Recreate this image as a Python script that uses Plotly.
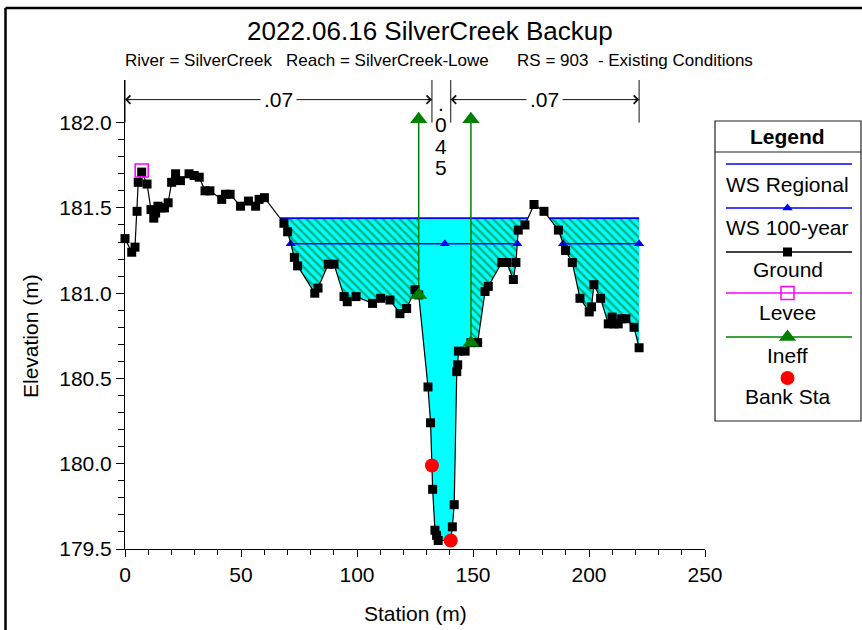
import numpy as np
import plotly.graph_objects as go

W, H = 862, 630
FONT = "Arial, Liberation Sans, sans-serif"

# ---- cross-section data -------------------------------------------------
ground_sta = [0.0, 2.9, 4.3, 5.2, 5.7, 7.2, 9.5, 11.2, 12.4, 13.2, 14.2, 15.5, 17.0,
              18.6, 20.1, 21.8, 23.9, 27.6, 29.8, 32.0, 34.5, 36.6, 41.7, 43.3, 45.3,
              49.8, 53.2, 56.3, 57.8, 60.1, 68.5, 70.1, 73.0, 74.4, 81.8, 83.2, 87.6,
              90.1, 94.4, 95.8, 99.6, 106.7, 110.2, 114.2, 118.5, 121.4, 125.0, 126.6,
              130.6, 131.7, 132.3, 132.6, 133.6, 134.3, 135.0, 140.4, 141.1, 141.9,
              143.0, 143.4, 143.7, 146.6, 149.1, 152.0, 155.2, 156.6, 162.4, 164.5,
              167.4, 168.5, 169.5, 172.4, 176.3, 180.6, 186.8, 189.9, 192.8, 196.1,
              200.1, 201.1, 202.1, 205.0, 208.3, 210.0, 210.8, 212.6, 214.1, 215.9,
              219.4, 221.6]
ground_elev = [181.32, 181.24, 181.27, 181.48, 181.65, 181.71, 181.64, 181.49, 181.44,
               181.47, 181.51, 181.50, 181.50, 181.53, 181.65, 181.70, 181.66, 181.70,
               181.69, 181.68, 181.60, 181.60, 181.55, 181.58, 181.58, 181.51, 181.54,
               181.51, 181.55, 181.56, 181.41, 181.36, 181.21, 181.16, 181.00, 181.03,
               181.17, 181.17, 180.98, 180.95, 180.98, 180.94, 180.97, 180.96, 180.88,
               180.91, 181.02, 180.99, 180.45, 180.24, 179.99, 179.85, 179.61, 179.58,
               179.55, 179.55, 179.63, 179.76, 180.54, 180.58, 180.66, 180.66, 180.71,
               180.71, 181.01, 181.04, 181.18, 181.18, 181.08, 181.18, 181.37, 181.40,
               181.52, 181.48, 181.37, 181.25, 181.18, 180.97, 180.89, 180.92, 181.05,
               180.97, 180.82, 180.86, 180.82, 180.82, 180.85, 180.85, 180.80, 180.68]

levee_sta = [7.2]
levee_elev = [181.72]

bank_sta = [132.3, 140.4]
bank_elev = [179.99, 179.55]

ineff_sta = [126.6, 149.1]
ineff_ground = [180.99, 180.71]
ineff_top = [182.02, 182.02]

ws_regional = 181.44
ws_100yr = 181.29

n_values = [".07", ".045", ".07"]
n_level = 182.135

title = "2022.06.16 SilverCreek Backup"
subtitle = ("River = SilverCreek\u00a0\u00a0\u00a0Reach = SilverCreek-Lowe"
            "\u00a0\u00a0\u00a0\u00a0\u00a0\u00a0RS = 903\u00a0\u00a0- Existing Conditions")

legend_items = ["WS Regional", "WS 100-year", "Ground", "Levee", "Ineff", "Bank Sta"]

# ---- colours -----------------------------------------------------------
C_WS = "#0000FF"
C_WATER = "#00FFFF"
C_INEFF = "#008000"
C_LEVEE = "#FF00FF"
C_BANK = "#FF0000"


def fx(px):
    return px / W


def fy(py):
    return 1 - py / H


def wet_runs(sta, elev, ws, start=-1e9):
    """Contiguous runs of the ground profile lying below a water level,
    ignoring anything on the land side of the left levee."""
    runs, cur = [], []
    for i, (s, z) in enumerate(zip(sta, elev)):
        if s < start:
            continue
        if cur or i > 0:
            s0, z0 = sta[i - 1], elev[i - 1]
            if s0 >= start and (z0 - ws) * (z - ws) < 0:
                sc = s0 + (ws - z0) / (z - z0) * (s - s0)
                cur.append((sc, ws))
                if z > ws:
                    runs.append(cur)
                    cur = []
        if z < ws:
            cur.append((s, z))
    if cur:
        runs.append(cur)
    return runs


def clip_run(run, lo, hi):
    s = np.array([p[0] for p in run])
    z = np.array([p[1] for p in run])
    a, b = max(lo, s[0]), min(hi, s[-1])
    if a >= b:
        return None
    pts = [(a, float(np.interp(a, s, z)))]
    pts += [(si, zi) for si, zi in zip(s, z) if a < si < b]
    pts.append((b, float(np.interp(b, s, z))))
    return pts


def water_polygon(pts, ws):
    xs = [p[0] for p in pts] + [pts[-1][0], pts[0][0], pts[0][0]]
    ys = [p[1] for p in pts] + [ws, ws, pts[0][1]]
    return xs, ys


fig = go.Figure()

# ---- water fill: effective flow (solid) and ineffective areas (hatched) ----
reg_runs = wet_runs(ground_sta, ground_elev, ws_regional, levee_sta[0])
zones = [(-1e9, ineff_sta[0], True), (ineff_sta[0], ineff_sta[1], False),
         (ineff_sta[1], 1e9, True)]
for run in reg_runs:
    for lo, hi, hatched in zones:
        pts = clip_run(run, lo, hi)
        if pts is None:
            continue
        xs, ys = water_polygon(pts, ws_regional)
        kw = dict(x=xs, y=ys, mode="lines", fill="toself", line=dict(width=0),
                  fillcolor=C_WATER, hoverinfo="skip", showlegend=False)
        if hatched:
            kw["fillpattern"] = dict(shape="\\", fgcolor="#006400", bgcolor=C_WATER,
                                     size=6, solidity=0.4)
        fig.add_trace(go.Scatter(**kw))


# ---- water surface lines ----
def ws_line(ws):
    xs, ys = [], []
    for run in wet_runs(ground_sta, ground_elev, ws, levee_sta[0]):
        xs += [run[0][0], run[-1][0], None]
        ys += [ws, ws, None]
    return xs, ys


xs, ys = ws_line(ws_regional)
fig.add_trace(go.Scatter(x=xs, y=ys, mode="lines", line=dict(color=C_WS, width=1.6),
                         hoverinfo="skip", showlegend=False))

xs, ys = ws_line(ws_100yr)
fig.add_trace(go.Scatter(x=xs, y=ys, mode="lines", line=dict(color=C_WS, width=1.6),
                         hoverinfo="skip", showlegend=False))
mark_x = [v for v in xs if v is not None] + [float(np.mean(ineff_sta))]
fig.add_trace(go.Scatter(x=mark_x, y=[ws_100yr] * len(mark_x), mode="markers",
                         marker=dict(symbol="triangle-up", size=9, color=C_WS),
                         cliponaxis=False, hoverinfo="skip", showlegend=False))

# ---- ineffective flow limits ----
for s, zg, zt in zip(ineff_sta, ineff_ground, ineff_top):
    fig.add_trace(go.Scatter(x=[s, s], y=[zg, zt], mode="lines",
                             line=dict(color=C_INEFF, width=1.5),
                             hoverinfo="skip", showlegend=False))

# ---- ground ----
fig.add_trace(go.Scatter(x=ground_sta, y=ground_elev, mode="lines+markers",
                         line=dict(color="black", width=1.2),
                         marker=dict(symbol="square", size=9, color="black"),
                         cliponaxis=False, showlegend=False))

fig.add_trace(go.Scatter(x=ineff_sta + ineff_sta, y=ineff_ground + ineff_top,
                         mode="markers",
                         marker=dict(symbol="triangle-up", size=15, color=C_INEFF),
                         cliponaxis=False, hoverinfo="skip", showlegend=False))

fig.add_trace(go.Scatter(x=levee_sta, y=levee_elev, mode="markers",
                         marker=dict(symbol="square-open", size=13, color=C_LEVEE,
                                     line=dict(width=1.5)),
                         cliponaxis=False, showlegend=False))

fig.add_trace(go.Scatter(x=bank_sta, y=bank_elev, mode="markers",
                         marker=dict(symbol="circle", size=14, color=C_BANK),
                         cliponaxis=False, showlegend=False))

# ---- Manning's n zones along the top ----
n_breaks = [ground_sta[0]] + bank_sta + [ground_sta[-1]]
annotations = []
for b in n_breaks:
    fig.add_trace(go.Scatter(x=[b, b], y=[182.0, 182.25], mode="lines",
                             line=dict(color="#111111", width=1),
                             cliponaxis=False, hoverinfo="skip", showlegend=False))

for i, label in enumerate(n_values):
    lo, hi = n_breaks[i], n_breaks[i + 1]
    mid = (lo + hi) / 2
    if hi - lo > 30:
        fig.add_trace(go.Scatter(x=[lo, hi], y=[n_level, n_level], mode="lines",
                                 line=dict(color="#111111", width=1),
                                 cliponaxis=False, hoverinfo="skip", showlegend=False))
        for end, tail in ((lo, lo + 3), (hi, hi - 3)):
            annotations.append(dict(x=end, y=n_level, ax=tail, ay=n_level,
                                     xref="x", yref="y", axref="x", ayref="y",
                                     text="", showarrow=True, arrowhead=4,
                                     arrowsize=1.6, arrowwidth=1, arrowcolor="#111111"))
        annotations.append(dict(x=mid, y=n_level, xref="x", yref="y", text=label,
                                showarrow=False, bgcolor="white", borderpad=3,
                                xanchor="center", yanchor="middle",
                                font=dict(size=21, color="black", family=FONT)))
    else:
        for k, ch in enumerate(label):
            annotations.append(dict(x=mid, y=n_level, xref="x", yref="y", text=ch,
                                    showarrow=False, yshift=-(3.5 + 21.5 * k),
                                    xanchor="center", yanchor="middle",
                                    font=dict(size=21, color="black", family=FONT)))


def paper_text(x, y, text, size=21, angle=0):
    return dict(x=fx(x), y=fy(y), xref="paper", yref="paper", text=text,
                showarrow=False, xanchor="center", yanchor="middle", textangle=angle,
                font=dict(size=size, color="black", family=FONT))


# ---- titles ----
annotations += [
    paper_text(430, 31, title, 26),
    paper_text(439, 60, subtitle, 17),
    paper_text(415, 613, "Station (m)"),
    paper_text(30, 336, "Elevation (m)", angle=-90),
]

# ---- legend panel ----
LX0, LX1, LY0, LY1 = 715, 861, 121, 421
LXC = (LX0 + LX1) / 2 - 0.5
fig.add_trace(go.Scatter(x=[None], y=[None], xaxis="x2", yaxis="y2", showlegend=False))
sample_y = [164, 208, 252, 293, 337, 378]
label_y = [184, 227, 269, 312, 355, 396]
sample_style = [
    dict(color=C_WS, marker=None),
    dict(color=C_WS, marker=dict(symbol="triangle-up", size=9, color=C_WS)),
    dict(color="black", marker=dict(symbol="square", size=9, color="black")),
    dict(color=C_LEVEE, marker=dict(symbol="square-open", size=13, color=C_LEVEE,
                                    line=dict(width=1.5))),
    dict(color=C_INEFF, marker=dict(symbol="triangle-up", size=15, color=C_INEFF)),
    dict(color=None, marker=dict(symbol="circle", size=14, color=C_BANK)),
]
for sy, ly, name, st in zip(sample_y, label_y, legend_items, sample_style):
    if st["color"] is not None:
        fig.add_trace(go.Scatter(x=[726, 852], y=[H - sy, H - sy], mode="lines",
                                 line=dict(color=st["color"], width=1.5),
                                 xaxis="x2", yaxis="y2", hoverinfo="skip",
                                 showlegend=False))
    if st["marker"] is not None:
        fig.add_trace(go.Scatter(x=[LXC], y=[H - sy], mode="markers", marker=st["marker"],
                                 xaxis="x2", yaxis="y2", hoverinfo="skip",
                                 showlegend=False))
    annotations.append(paper_text(LXC, ly, name))
annotations.append(paper_text(LXC, 136, "<b>Legend</b>"))

shapes = [
    dict(type="rect", xref="paper", yref="paper", x0=fx(LX0), x1=fx(LX1),
         y0=fy(LY1), y1=fy(LY0), line=dict(color="#222222", width=1.2)),
    dict(type="line", xref="paper", yref="paper", x0=fx(LX0), x1=fx(LX1),
         y0=fy(152), y1=fy(152), line=dict(color="#222222", width=1.2)),
    # outer frame
    dict(type="line", xref="paper", yref="paper", x0=fx(5.5), x1=fx(5.5),
         y0=0, y1=fy(8), line=dict(color="black", width=2.5)),
    dict(type="line", xref="paper", yref="paper", x0=fx(5.5), x1=1,
         y0=fy(8), y1=fy(8), line=dict(color="black", width=2.5)),
]

y_minor = [v for v in np.round(np.arange(179.5, 182.0001, 0.1), 2) if round(v * 2) != v * 2]

fig.update_layout(
    width=W, height=H, margin=dict(l=0, r=0, t=0, b=0),
    paper_bgcolor="white", plot_bgcolor="white",
    font=dict(family=FONT, color="black"),
    showlegend=False,
    annotations=annotations, shapes=shapes,
    xaxis=dict(domain=[fx(125), fx(705)], range=[0, 250], dtick=50, tick0=0,
               showgrid=False, zeroline=False, showline=True, linecolor="black",
               linewidth=1, ticks="outside", ticklen=7, tickcolor="black",
               tickfont=dict(size=21, family=FONT, color="black"),
               minor=dict(dtick=10, tick0=0, ticks="outside", ticklen=5,
                          tickcolor="black", showgrid=False),
               automargin=False, fixedrange=True),
    yaxis=dict(domain=[fy(549), fy(80)], range=[179.5, 182.25],
               tickmode="array", tickvals=[179.5, 180.0, 180.5, 181.0, 181.5, 182.0],
               tickformat=".1f",
               showgrid=False, zeroline=False, showline=True, linecolor="black",
               linewidth=1, ticks="outside", ticklen=8, tickcolor="black",
               tickfont=dict(size=21, family=FONT, color="black"),
               minor=dict(tickmode="array", tickvals=y_minor, ticks="outside",
                          ticklen=6, tickcolor="black", showgrid=False),
               automargin=False, fixedrange=True),
    xaxis2=dict(domain=[fx(LX0), fx(LX1)], range=[LX0, LX1], visible=False,
                fixedrange=True, anchor="y2"),
    yaxis2=dict(domain=[fy(LY1), fy(LY0)], range=[H - LY1, H - LY0], visible=False,
                fixedrange=True, anchor="x2"),
)

fig.write_html("out.html")
